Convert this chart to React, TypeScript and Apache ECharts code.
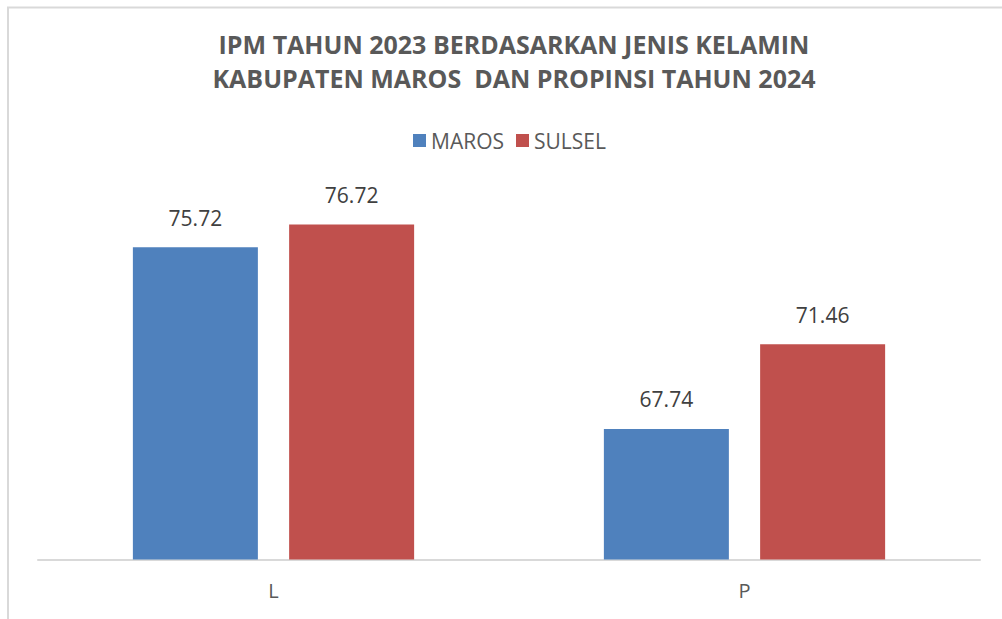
import React, { useEffect, useRef } from "react";
import * as echarts from "echarts";

const titleLines = [
  "IPM TAHUN 2023 BERDASARKAN JENIS KELAMIN",
  "KABUPATEN MAROS  DAN PROPINSI TAHUN 2024",
];
const categories = ["L", "P"];
const seriesNames = ["MAROS", "SULSEL"];
const marosValues = [75.72, 67.74];
const sulselValues = [76.72, 71.46];
const colors = ["#4F81BD", "#C0504D"];

export default function App() {
  const ref = useRef<HTMLDivElement>(null);
  useEffect(() => {
    if (!ref.current) return;
    const chart = echarts.init(ref.current, null, { renderer: "svg" });
    const font = "'Open Sans', 'Noto Sans', sans-serif";
    const label = {
      show: true,
      position: "top",
      distance: 19,
      fontFamily: font,
      fontSize: 21,
      color: "#404040",
      formatter: (p: any) => p.value.toFixed(2),
    };
    chart.setOption({
      animation: false,
      backgroundColor: "#ffffff",
      textStyle: { fontFamily: font },
      title: {
        text: titleLines.join("\n"),
        left: 509,
        textAlign: "center",
        top: 22,
        textStyle: {
          fontFamily: font,
          fontSize: 25,
          fontWeight: "bold",
          color: "#595959",
          lineHeight: 34,
        },
      },
      legend: {
        data: seriesNames,
        left: 408,
        top: 125,
        itemWidth: 13,
        itemHeight: 13,
        itemGap: 12,
        icon: "rect",
        textStyle: { fontFamily: font, fontSize: 21, color: "#595959" },
      },
      graphic: [
        {
          type: "rect",
          shape: { x: 8, y: 7.5, width: 1200, height: 800 },
          style: { fill: "none", stroke: "#D9D9D9", lineWidth: 2 },
          silent: true,
        },
      ],
      grid: { left: 38, right: 22, top: 195.5, bottom: 59.5 },
      xAxis: {
        type: "category",
        data: categories,
        axisLine: { lineStyle: { color: "#D9D9D9", width: 2 } },
        axisTick: { show: false },
        axisLabel: { fontFamily: font, fontSize: 20, color: "#595959", margin: 21 },
      },
      yAxis: {
        type: "value",
        min: 62,
        max: 78,
        interval: 2,
        show: false,
        splitLine: { show: false },
      },
      series: [
        {
          name: seriesNames[0],
          type: "bar",
          data: marosValues,
          barWidth: 125,
          barGap: "25%",
          itemStyle: { color: colors[0] },
          label,
        },
        {
          name: seriesNames[1],
          type: "bar",
          data: sulselValues,
          barWidth: 125,
          barGap: "25%",
          itemStyle: { color: colors[1] },
          label,
        },
      ],
    });
    return () => chart.dispose();
  }, []);
  return (
    <div
      ref={ref}
      style={{ position: "absolute", left: 0, top: 0, width: 1002, height: 619 }}
    />
  );
}
